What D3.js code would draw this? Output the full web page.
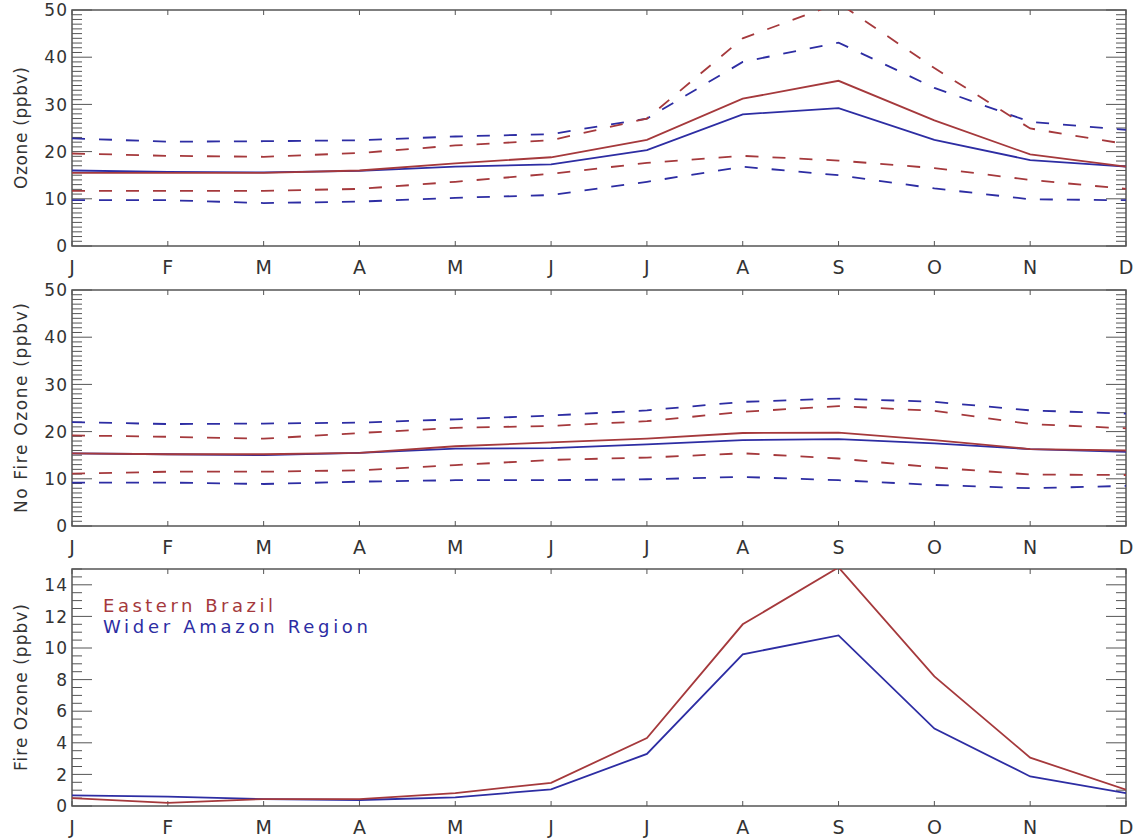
<!DOCTYPE html>
<html>
<head>
<meta charset="utf-8">
<script src="https://cdn.jsdelivr.net/npm/d3@7"></script>
<style>
  body { margin: 0; background: #fff; }
  svg { font-family: "DejaVu Sans", sans-serif; }
</style>
</head>
<body>
<svg class="ozone" width="1137" height="839"></svg>
<script>
const months = ['J', 'F', 'M', 'A', 'M', 'J', 'J', 'A', 'S', 'O', 'N', 'D'];

// total ozone (ppbv), mean and spread
const ebMean  = [15.5, 15.5, 15.5, 16.0, 17.5, 18.8, 22.5, 31.2, 35.0, 26.6, 19.4, 16.8];
const ebUpper = [19.6, 19.1, 18.9, 19.7, 21.3, 22.4, 27.0, 44.0, 51.5, 37.7, 24.9, 21.6];
const ebLower = [11.7, 11.7, 11.7, 12.1, 13.6, 15.3, 17.6, 19.1, 18.1, 16.5, 14.0, 12.1];
const waMean  = [16.0, 15.7, 15.6, 15.9, 16.8, 17.3, 20.3, 27.9, 29.2, 22.5, 18.2, 16.8];
const waUpper = [22.8, 22.1, 22.2, 22.4, 23.2, 23.7, 27.0, 39.0, 43.1, 33.5, 26.3, 24.6];
const waLower = [9.7, 9.7, 9.1, 9.4, 10.2, 10.8, 13.6, 16.8, 15.0, 12.2, 9.9, 9.7];

// no fire ozone (ppbv)
const nfEbMean  = [15.4, 15.2, 15.2, 15.5, 16.9, 17.7, 18.5, 19.7, 19.8, 18.2, 16.3, 16.0];
const nfEbUpper = [19.2, 18.9, 18.5, 19.7, 20.8, 21.2, 22.2, 24.2, 25.4, 24.4, 21.6, 20.7];
const nfEbLower = [11.1, 11.5, 11.5, 11.8, 12.9, 14.0, 14.5, 15.4, 14.3, 12.4, 10.9, 10.8];
const nfWaMean  = [15.4, 15.2, 15.0, 15.5, 16.4, 16.5, 17.3, 18.2, 18.4, 17.5, 16.3, 15.7];
const nfWaUpper = [22.0, 21.6, 21.7, 21.9, 22.6, 23.4, 24.5, 26.3, 27.0, 26.3, 24.5, 23.8];
const nfWaLower = [9.2, 9.2, 8.9, 9.4, 9.7, 9.7, 9.9, 10.4, 9.7, 8.7, 8.0, 8.5];

// fire ozone (ppbv)
const fireEb = [0.5, 0.2, 0.44, 0.44, 0.82, 1.47, 4.3, 11.5, 15.1, 8.2, 3.06, 1.03];
const fireWa = [0.67, 0.59, 0.44, 0.38, 0.55, 1.05, 3.3, 9.6, 10.8, 4.9, 1.87, 0.81];

const legendLabels = ['Eastern Brazil', 'Wider Amazon Region'];

const red = '#a5393c';
const blue = '#2d2da3';
const axisColor = '#555';

const svg = d3.select('svg.ozone');
const left = 72, right = 1126;

const xScale = d3.scalePoint()
    .domain(d3.range(12))
    .range([left, right]);

const panels = [
    { top: 10, bottom: 246, max: 50, major: 10, minor: 1, label: 'Ozone (ppbv)', labelLen: 122,
      series: [
        { v: waUpper, c: blue, dash: true }, { v: ebUpper, c: red, dash: true },
        { v: waLower, c: blue, dash: true }, { v: ebLower, c: red, dash: true },
        { v: waMean, c: blue }, { v: ebMean, c: red } ] },
    { top: 290, bottom: 526, max: 50, major: 10, minor: 1, label: 'No Fire Ozone (ppbv)', labelLen: 210,
      series: [
        { v: nfWaUpper, c: blue, dash: true }, { v: nfEbUpper, c: red, dash: true },
        { v: nfWaLower, c: blue, dash: true }, { v: nfEbLower, c: red, dash: true },
        { v: nfWaMean, c: blue }, { v: nfEbMean, c: red } ] },
    { top: 569, bottom: 806, max: 15, major: 2, minor: 0.5, label: 'Fire Ozone (ppbv)', labelLen: 167,
      series: [ { v: fireWa, c: blue }, { v: fireEb, c: red } ] }
];

panels.forEach((p, i) => {
    const yScale = d3.scaleLinear().domain([0, p.max]).range([p.bottom, p.top]);
    const g = svg.append('g');

    g.append('clipPath').attr('id', 'clip' + i)
      .append('rect')
        .attr('x', left).attr('y', p.top)
        .attr('width', right - left).attr('height', p.bottom - p.top);

    // minor + major ticks on both sides
    const minors = d3.range(0, p.max + 0.001, p.minor);
    minors.forEach(v => {
        const isMajor = Math.abs(v / p.major - Math.round(v / p.major)) < 1e-6;
        const len = isMajor ? 20 : 10;
        const y = yScale(v);
        g.append('line').attr('x1', left).attr('x2', left + len)
            .attr('y1', y).attr('y2', y).attr('stroke', axisColor).attr('stroke-width', 1);
        g.append('line').attr('x1', right).attr('x2', right - len)
            .attr('y1', y).attr('y2', y).attr('stroke', axisColor).attr('stroke-width', 1);
    });

    // y labels
    g.selectAll('.ylab').data(d3.range(0, p.max + 0.001, p.major))
      .enter().append('text')
        .attr('x', left - 4)
        .attr('y', d => yScale(d))
        .attr('dy', '0.36em')
        .attr('text-anchor', 'end')
        .attr('font-size', 17)
        .attr('letter-spacing', 1)
        .attr('fill', '#333')
        .text(d => d);

    // month ticks top and bottom
    months.forEach((m, k) => {
        const x = xScale(k);
        g.append('line').attr('x1', x).attr('x2', x).attr('y1', p.bottom).attr('y2', p.bottom - 5)
            .attr('stroke', axisColor);
        g.append('line').attr('x1', x).attr('x2', x).attr('y1', p.top).attr('y2', p.top + 5)
            .attr('stroke', axisColor);
    });
    g.selectAll('.xlab').data(months)
      .enter().append('text')
        .attr('x', (d, k) => xScale(k))
        .attr('y', p.bottom + 21)
        .attr('dy', '0.36em')
        .attr('text-anchor', 'middle')
        .attr('font-size', 19)
        .attr('fill', '#333')
        .text(d => d);

    // frame
    g.append('rect')
        .attr('x', left).attr('y', p.top)
        .attr('width', right - left).attr('height', p.bottom - p.top)
        .attr('fill', 'none').attr('stroke', axisColor).attr('stroke-width', 1.5);

    // axis title
    g.append('text')
        .attr('transform', `translate(21, ${(p.top + p.bottom) / 2}) rotate(-90)`)
        .attr('dy', '0.36em')
        .attr('text-anchor', 'middle')
        .attr('font-size', 17)
        .attr('fill', '#333')
        .attr('textLength', p.labelLen)
        .attr('lengthAdjust', 'spacing')
        .text(p.label);

    const line = d3.line()
        .x((d, k) => xScale(k))
        .y(d => yScale(d));

    g.append('g').attr('clip-path', `url(#clip${i})`)
      .selectAll('path').data(p.series)
      .enter().append('path')
        .attr('d', d => line(d.v))
        .attr('fill', 'none')
        .attr('stroke', d => d.c)
        .attr('stroke-width', 1.8)
        .attr('stroke-dasharray', d => d.dash ? '13,14' : null);
});

// legend
svg.selectAll('.legend').data(legendLabels)
  .enter().append('text')
    .attr('x', 103)
    .attr('y', (d, k) => 612 + k * 21)
    .attr('font-size', 18)
    .attr('fill', (d, k) => k === 0 ? red : blue)
    .attr('textLength', (d, k) => k === 0 ? 170 : 265)
    .attr('lengthAdjust', 'spacing')
    .text(d => d);
</script>
</body>
</html>
